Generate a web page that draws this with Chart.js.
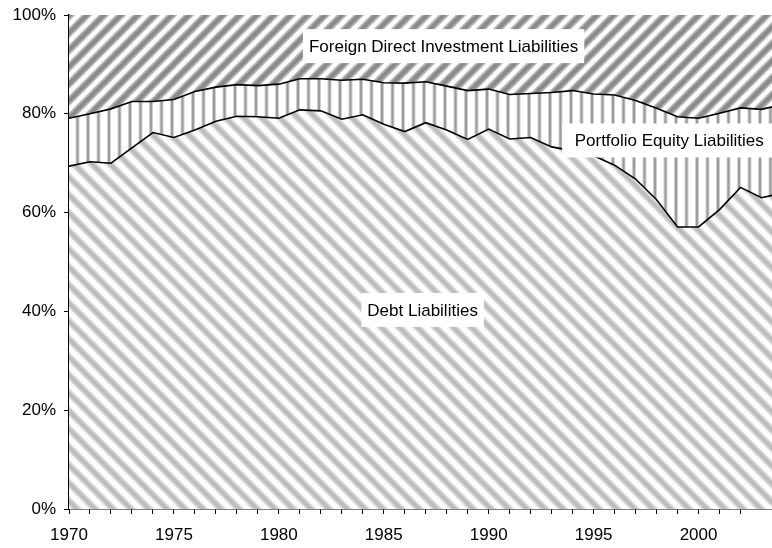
<!DOCTYPE html>
<html>
<head>
<meta charset="utf-8">
<script src="https://cdn.jsdelivr.net/npm/chart.js@4"></script>
<style>
  html, body { margin: 0; padding: 0; background: #fff; }
  canvas { display: block; }
</style>
</head>
<body>
<canvas id="liabChart" width="772" height="548"></canvas>
<script>
const years = [1970, 1971, 1972, 1973, 1974, 1975, 1976, 1977, 1978, 1979,
  1980, 1981, 1982, 1983, 1984, 1985, 1986, 1987, 1988, 1989,
  1990, 1991, 1992, 1993, 1994, 1995, 1996, 1997, 1998, 1999,
  2000, 2001, 2002, 2003, 2004];
// shares of total liabilities, %
const debtShare = [69.4, 70.3, 70.0, 73.1, 76.2, 75.2, 76.7, 78.5, 79.5, 79.4,
  79.1, 80.8, 80.6, 78.9, 79.8, 77.9, 76.4, 78.2, 76.7, 74.8,
  76.9, 74.9, 75.2, 73.3, 72.5, 71.5, 69.6, 66.8, 62.6, 57.1,
  57.1, 60.6, 65.1, 63.0, 64.0];
const equityShare = [9.7, 9.7, 11.0, 9.4, 6.3, 7.7, 7.8, 6.9, 6.4, 6.3,
  6.9, 6.3, 6.5, 7.9, 7.2, 8.4, 9.8, 8.3, 8.9, 9.9,
  8.1, 9.0, 8.9, 11.0, 12.2, 12.5, 14.2, 15.9, 18.5, 22.3,
  22.0, 19.5, 16.1, 17.9, 17.9];
const fdiShare = [20.9, 20.0, 19.0, 17.5, 17.5, 17.1, 15.5, 14.6, 14.1, 14.3,
  14.0, 12.9, 12.9, 13.2, 13.0, 13.7, 13.8, 13.5, 14.4, 15.3,
  15.0, 16.1, 15.9, 15.7, 15.3, 16.0, 16.2, 17.3, 18.9, 20.6,
  20.9, 19.9, 18.8, 19.1, 18.1];
const seriesNames = ["Debt Liabilities", "Portfolio Equity Liabilities", "Foreign Direct Investment Liabilities"];
const yTicks = [0, 20, 40, 60, 80, 100];

const FONT = "'Liberation Sans', Arial, sans-serif";

function diagonalPattern(edge, core, period, rising) {
  const c = document.createElement("canvas");
  c.width = period;
  c.height = period;
  const ctx = c.getContext("2d");
  ctx.fillStyle = "#fff";
  ctx.fillRect(0, 0, period, period);
  // soft edged stripe: wide pale band, narrower core
  // lines run past the tile so the caps don't leave seams
  [[edge, 7.5], [core, 4]].forEach(([color, width]) => {
    ctx.strokeStyle = color;
    ctx.lineWidth = width;
    for (let k = -2; k <= 2; k++) {
      ctx.beginPath();
      if (rising) {
        ctx.moveTo(k * period + 2 * period, -period);
        ctx.lineTo(k * period - period, 2 * period);
      } else {
        ctx.moveTo(k * period - period, -period);
        ctx.lineTo(k * period + 2 * period, 2 * period);
      }
      ctx.stroke();
    }
  });
  return ctx.createPattern(c, "repeat");
}

function verticalPattern() {
  const c = document.createElement("canvas");
  c.width = 21;
  c.height = 4;
  const ctx = c.getContext("2d");
  ctx.fillStyle = "#fff";
  ctx.fillRect(0, 0, 21, 4);
  [2, 12.5].forEach((x0) => {
    ctx.fillStyle = "#d0d0d0";
    ctx.fillRect(x0, 0, 4, 4);
    ctx.fillStyle = "#9c9c9c";
    ctx.fillRect(x0 + 1, 0, 2, 4);
  });
  return ctx.createPattern(c, "repeat");
}

function toPoints(values) {
  return values.map((v, i) => ({ x: years[i], y: v }));
}

// text labels sitting on white boxes inside the areas
const areaLabels = [
  { text: seriesNames[2], x: 1987.85, y: 93.7, boxLeft: null },
  { text: seriesNames[1], x: 1998.6, y: 74.6, boxLeft: 1993.5 },
  { text: seriesNames[0], x: 1986.85, y: 40.3, boxLeft: null },
];

const labelPlugin = {
  id: "areaLabels",
  afterDatasetsDraw(chart) {
    const ctx = chart.ctx;
    const xs = chart.scales.x;
    const ys = chart.scales.y;
    ctx.save();
    ctx.font = "17px " + FONT;
    ctx.textAlign = "center";
    ctx.textBaseline = "middle";
    areaLabels.forEach((l) => {
      const cx = xs.getPixelForValue(l.x);
      const cy = ys.getPixelForValue(l.y);
      const w = ctx.measureText(l.text).width;
      let left = cx - w / 2 - 6;
      let right = cx + w / 2 + 6;
      if (l.boxLeft !== null) {
        left = xs.getPixelForValue(l.boxLeft);
        right = chart.width;
      }
      ctx.fillStyle = "#fff";
      ctx.fillRect(left, cy - 17, right - left, 34);
      ctx.fillStyle = "#000";
      ctx.fillText(l.text, cx, cy + 1);
    });
    ctx.restore();
  },
};

function buildChart() {
  const ctx = document.getElementById("liabChart").getContext("2d");
  return new Chart(ctx, {
    type: "line",
    data: {
      datasets: [
        {
          label: seriesNames[0],
          data: toPoints(debtShare),
          backgroundColor: diagonalPattern("#dadada", "#bdbdbd", 18, false),
          borderColor: "#000",
          borderWidth: 1.6,
          fill: "origin",
        },
        {
          label: seriesNames[1],
          data: toPoints(equityShare),
          backgroundColor: verticalPattern(),
          borderColor: "#000",
          borderWidth: 1.6,
          fill: "-1",
        },
        {
          label: seriesNames[2],
          data: toPoints(fdiShare),
          backgroundColor: diagonalPattern("#b4b4b4", "#8a8a8a", 17, true),
          borderWidth: 0,
          borderColor: "rgba(0,0,0,0)",
          fill: "-1",
        },
      ],
    },
    options: {
      responsive: false,
      animation: false,
      events: [],
      layout: { padding: { top: 15, right: 0, left: 0, bottom: 0 } },
      elements: {
        point: { radius: 0 },
        line: { tension: 0 },
      },
      plugins: {
        legend: { display: false },
        tooltip: { enabled: false },
      },
      scales: {
        x: {
          type: "linear",
          min: 1970,
          max: 2003.5,
          afterFit: (s) => {
            s.height = 39;
            s.paddingLeft = 0;
            s.paddingRight = 0;
          },
          border: { color: "#000", width: 1.5 },
          grid: { drawOnChartArea: false, drawTicks: true, tickLength: 5, color: "#000", lineWidth: 1 },
          ticks: {
            stepSize: 1,
            autoSkip: false,
            maxRotation: 0,
            padding: 11,
            color: "#000",
            font: { family: FONT, size: 17 },
            callback: (v) => {
              if (!Number.isInteger(v)) return null;
              return v % 5 === 0 ? String(v) : "";
            },
          },
        },
        y: {
          stacked: true,
          min: 0,
          max: 100,
          afterFit: (s) => {
            s.width = 69;
            s.paddingTop = 0;
            s.paddingBottom = 0;
          },
          afterBuildTicks: (s) => { s.ticks = yTicks.map((v) => ({ value: v })); },
          border: { color: "#000", width: 1.5 },
          grid: { drawOnChartArea: false, drawTicks: true, tickLength: 5, color: "#000", lineWidth: 1 },
          ticks: {
            padding: 8,
            color: "#000",
            font: { family: FONT, size: 17 },
            callback: (v) => v + "%",
          },
        },
      },
    },
    plugins: [labelPlugin],
  });
}

buildChart();
</script>
</body>
</html>
